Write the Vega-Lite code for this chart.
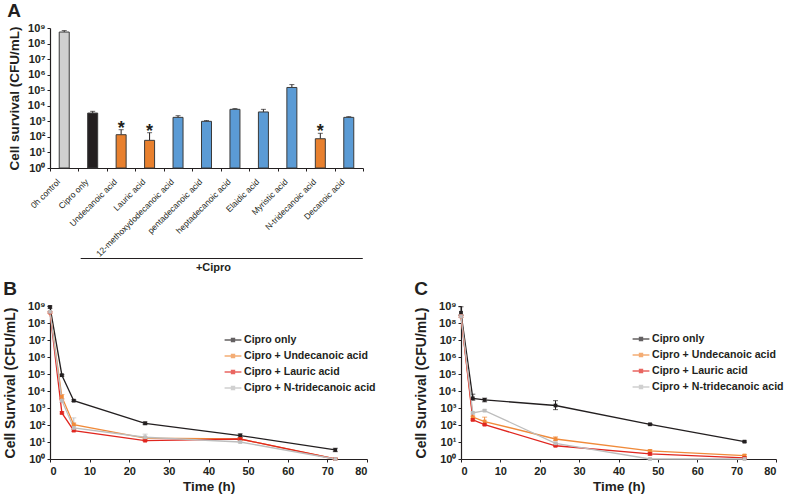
{
  "$schema": "https://vega.github.io/schema/vega-lite/v6.json",
  "padding": {"left": 3, "top": 2, "right": 2, "bottom": 2},
  "background": "white",
  "config": {
    "view": {"stroke": null},
    "font": "Liberation Sans",
    "axis": {"grid": false, "domainColor": "#231f20", "tickColor": "#231f20", "labelColor": "#231f20", "titleColor": "#231f20", "labelFont": "Liberation Sans", "titleFont": "Liberation Sans", "domainWidth": 1.2, "tickSize": 3},
    "title": {"font": "Liberation Sans", "color": "#231f20"},
    "legend": {"labelFont": "Liberation Sans"}
  },
  "datasets": {
    "bars": [
      {"treatment": "0h control", "type": "control", "value": 550000000, "hi": 680000000, "sig": ""},
      {"treatment": "Cipro only", "type": "cipro", "value": 3400, "hi": 4400, "sig": ""},
      {"treatment": "Undecanoic acid", "type": "sig", "value": 138, "hi": 290, "sig": "*"},
      {"treatment": "Lauric acid", "type": "sig", "value": 60, "hi": 186, "sig": "*"},
      {"treatment": "12-methoxydodecanoic acid", "type": "ns", "value": 1800, "hi": 2300, "sig": ""},
      {"treatment": "pentadecanoic acid", "type": "ns", "value": 1000, "hi": 1120, "sig": ""},
      {"treatment": "heptadecanoic acid", "type": "ns", "value": 5900, "hi": 6600, "sig": ""},
      {"treatment": "Elaidic acid", "type": "ns", "value": 4000, "hi": 5900, "sig": ""},
      {"treatment": "Myristic acid", "type": "ns", "value": 150000, "hi": 230000, "sig": ""},
      {"treatment": "N-tridecanoic acid", "type": "sig", "value": 76, "hi": 170, "sig": "*"},
      {"treatment": "Decanoic acid", "type": "ns", "value": 1800, "hi": 2000, "sig": ""}
    ],
    "bracket": [
      {"from": "Cipro only", "to": "Decanoic acid", "label": "+Cipro"}
    ],
    "bw": [
      {"series": "Cipro only", "Time": 0, "CFU": 880000000, "lo": 750000000, "hi": 1000000000},
      {"series": "Cipro only", "Time": 3, "CFU": 85000, "lo": 75000, "hi": 95000},
      {"series": "Cipro only", "Time": 6, "CFU": 2700, "lo": 2400, "hi": 3000},
      {"series": "Cipro only", "Time": 24, "CFU": 126, "lo": 105, "hi": 150},
      {"series": "Cipro only", "Time": 48, "CFU": 24, "lo": 19, "hi": 30},
      {"series": "Cipro only", "Time": 72, "CFU": 3.4, "lo": 2.7, "hi": 4.3},
      {"series": "Cipro + Undecanoic acid", "Time": 0, "CFU": 420000000, "lo": 380000000, "hi": 460000000},
      {"series": "Cipro + Undecanoic acid", "Time": 3, "CFU": 4500, "lo": 3300, "hi": 6200},
      {"series": "Cipro + Undecanoic acid", "Time": 6, "CFU": 105, "lo": 90, "hi": 130},
      {"series": "Cipro + Undecanoic acid", "Time": 24, "CFU": 17, "lo": 15, "hi": 20},
      {"series": "Cipro + Undecanoic acid", "Time": 48, "CFU": 15, "lo": 13, "hi": 17},
      {"series": "Cipro + Undecanoic acid", "Time": 72, "CFU": 1, "lo": 1, "hi": 1.1},
      {"series": "Cipro + Lauric acid", "Time": 0, "CFU": 420000000, "lo": 380000000, "hi": 460000000},
      {"series": "Cipro + Lauric acid", "Time": 3, "CFU": 515, "lo": 450, "hi": 590},
      {"series": "Cipro + Lauric acid", "Time": 6, "CFU": 47, "lo": 42, "hi": 53},
      {"series": "Cipro + Lauric acid", "Time": 24, "CFU": 12, "lo": 11, "hi": 13.5},
      {"series": "Cipro + Lauric acid", "Time": 48, "CFU": 15, "lo": 13, "hi": 17},
      {"series": "Cipro + Lauric acid", "Time": 72, "CFU": 1, "lo": 1, "hi": 1.1},
      {"series": "Cipro + N-tridecanoic acid", "Time": 0, "CFU": 450000000, "lo": 400000000, "hi": 500000000},
      {"series": "Cipro + N-tridecanoic acid", "Time": 3, "CFU": 2700, "lo": 2100, "hi": 3600},
      {"series": "Cipro + N-tridecanoic acid", "Time": 6, "CFU": 67, "lo": 43, "hi": 263},
      {"series": "Cipro + N-tridecanoic acid", "Time": 24, "CFU": 19, "lo": 15, "hi": 29},
      {"series": "Cipro + N-tridecanoic acid", "Time": 48, "CFU": 10, "lo": 9, "hi": 11.5},
      {"series": "Cipro + N-tridecanoic acid", "Time": 72, "CFU": 1, "lo": 1, "hi": 1.1}
    ],
    "ehec": [
      {"series": "Cipro only", "Time": 0, "CFU": 400000000, "lo": 300000000, "hi": 900000000},
      {"series": "Cipro only", "Time": 3, "CFU": 3700, "lo": 2900, "hi": 6500},
      {"series": "Cipro only", "Time": 6, "CFU": 3000, "lo": 2300, "hi": 3800},
      {"series": "Cipro only", "Time": 24, "CFU": 1400, "lo": 800, "hi": 2700},
      {"series": "Cipro only", "Time": 48, "CFU": 110, "lo": 100, "hi": 122},
      {"series": "Cipro only", "Time": 72, "CFU": 10.5, "lo": 9.6, "hi": 11.5},
      {"series": "Cipro + Undecanoic acid", "Time": 0, "CFU": 250000000, "lo": 220000000, "hi": 280000000},
      {"series": "Cipro + Undecanoic acid", "Time": 3, "CFU": 290, "lo": 250, "hi": 330},
      {"series": "Cipro + Undecanoic acid", "Time": 6, "CFU": 160, "lo": 115, "hi": 290},
      {"series": "Cipro + Undecanoic acid", "Time": 24, "CFU": 15, "lo": 12, "hi": 20},
      {"series": "Cipro + Undecanoic acid", "Time": 48, "CFU": 3, "lo": 2.6, "hi": 3.5},
      {"series": "Cipro + Undecanoic acid", "Time": 72, "CFU": 1.6, "lo": 1.4, "hi": 1.8},
      {"series": "Cipro + Lauric acid", "Time": 0, "CFU": 250000000, "lo": 220000000, "hi": 280000000},
      {"series": "Cipro + Lauric acid", "Time": 3, "CFU": 200, "lo": 180, "hi": 220},
      {"series": "Cipro + Lauric acid", "Time": 6, "CFU": 105, "lo": 95, "hi": 115},
      {"series": "Cipro + Lauric acid", "Time": 24, "CFU": 6, "lo": 5.4, "hi": 6.6},
      {"series": "Cipro + Lauric acid", "Time": 48, "CFU": 2, "lo": 1.7, "hi": 2.3},
      {"series": "Cipro + Lauric acid", "Time": 72, "CFU": 1.15, "lo": 1, "hi": 1.3},
      {"series": "Cipro + N-tridecanoic acid", "Time": 0, "CFU": 250000000, "lo": 220000000, "hi": 280000000},
      {"series": "Cipro + N-tridecanoic acid", "Time": 3, "CFU": 515, "lo": 450, "hi": 590},
      {"series": "Cipro + N-tridecanoic acid", "Time": 6, "CFU": 700, "lo": 620, "hi": 780},
      {"series": "Cipro + N-tridecanoic acid", "Time": 24, "CFU": 8.4, "lo": 7.5, "hi": 9.5},
      {"series": "Cipro + N-tridecanoic acid", "Time": 48, "CFU": 1, "lo": 1, "hi": 1.1},
      {"series": "Cipro + N-tridecanoic acid", "Time": 72, "CFU": 1, "lo": 1, "hi": 1.1}
    ]
  },
  "spacing": 6,
  "vconcat": [
    {
      "spacing": -19,
      "resolve": {"scale": {"x": "shared"}},
      "vconcat": [
        {
          "width": 313,
          "height": 140,
          "title": {"text": "A", "anchor": "start", "frame": "bounds", "fontSize": 19, "fontWeight": "bold", "offset": 1},
          "data": {"name": "bars"},
          "encoding": {
            "x": {"field": "treatment", "type": "nominal", "sort": null, "scale": {"type": "band"},
              "axis": {"title": null, "labelAngle": -45, "labelFontSize": 8.5, "labelOffset": -9, "labelPadding": 6, "tickBand": "extent", "tickSize": 3, "labelColor": "#231f20"}}
          },
          "layer": [
            {
              "mark": {"type": "rule", "color": "#231f20", "strokeWidth": 1},
              "encoding": {
                "y": {"field": "value", "type": "quantitative", "title": "Cell survival (CFU/mL)", "scale": {"type": "log", "domain": [1, 1000000000]}},
                "y2": {"field": "hi"}
              }
            },
            {
              "mark": {"type": "tick", "color": "#231f20", "thickness": 1, "size": 5, "orient": "horizontal"},
              "encoding": {
                "y": {"field": "hi", "type": "quantitative", "title": "Cell survival (CFU/mL)", "scale": {"type": "log", "domain": [1, 1000000000]}}
              }
            },
            {
              "mark": {"type": "bar", "width": 10, "stroke": "#3a3a3a", "strokeWidth": 1},
              "encoding": {
                "y": {"field": "value", "type": "quantitative", "title": "Cell survival (CFU/mL)", "scale": {"type": "log", "domain": [1, 1000000000]},
                  "axis": {"values": [1, 10, 100, 1000, 10000, 100000, 1000000, 10000000, 100000000, 1000000000],
                    "labelExpr": "'10' + ['⁰','¹','²','³','⁴','⁵','⁶','⁷','⁸','⁹'][round(log(datum.value)/LN10)]",
                    "labelFontSize": 11, "labelFontWeight": "bold", "titleFontSize": 13.5, "titleFontWeight": "bold", "titlePadding": 6}},
                "y2": {"datum": 1},
                "color": {"field": "type", "type": "nominal", "legend": null,
                  "scale": {"domain": ["control", "cipro", "sig", "ns"], "range": ["#d0d0d0", "#231f20", "#e8802e", "#5b9bd5"]}}
              }
            },
            {
              "transform": [{"filter": "datum.sig != ''"}],
              "mark": {"type": "text", "fontSize": 18, "fontWeight": "bold", "baseline": "alphabetic", "dy": 4, "color": "#231f20"},
              "encoding": {
                "y": {"field": "hi", "type": "quantitative", "title": "Cell survival (CFU/mL)", "scale": {"type": "log", "domain": [1, 1000000000]}},
                "text": {"field": "sig"}
              }
            }
          ]
        },
        {
          "width": 313,
          "height": 1,
          "data": {"name": "bracket"},
          "title": {"text": "+Cipro", "orient": "bottom", "fontSize": 11, "fontWeight": "bold", "offset": 3, "dx": 7},
          "mark": {"type": "rule", "color": "#231f20", "strokeWidth": 1.2, "xOffset": -12, "x2Offset": 14},
          "encoding": {
            "x": {"field": "from", "type": "nominal", "sort": null, "scale": {"type": "band"}, "axis": null},
            "x2": {"field": "to"}
          }
        }
      ]
    },
    {
      "spacing": 38,
      "resolve": {"scale": {"color": "independent"}, "legend": {"color": "independent"}},
      "hconcat": [
        {
          "width": 317,
          "height": 153,
          "title": {"text": "B", "anchor": "start", "frame": "bounds", "fontSize": 19, "fontWeight": "bold", "offset": 1},
          "data": {"name": "bw"},
          "encoding": {
            "x": {"field": "Time", "type": "quantitative", "title": "Time (h)", "scale": {"domain": [0, 80], "nice": false},
              "axis": {"values": [0, 10, 20, 30, 40, 50, 60, 70, 80], "labelFontSize": 11, "labelFontWeight": "bold", "titleFontSize": 13.5, "titleFontWeight": "bold", "titlePadding": 3, "labelPadding": 3}},
            "color": {"field": "series", "type": "nominal", "title": null,
              "scale": {"domain": ["Cipro only", "Cipro + Undecanoic acid", "Cipro + Lauric acid", "Cipro + N-tridecanoic acid"], "range": ["#231f20", "#f08a3a", "#e0261f", "#bdbdbd"]},
              "legend": {"orient": "none", "legendX": 175, "legendY": 26, "padding": 0, "labelFontSize": 10.6, "labelFontWeight": "bold", "labelColor": "#231f20", "symbolType": "M-1.2,0H1.2M-0.22,-0.22H0.22V0.22H-0.22Z", "symbolSize": 196, "symbolStrokeWidth": 1.3, "rowPadding": 2, "labelOffset": 3}}
          },
          "layer": [
            {
              "mark": {"type": "rule", "strokeWidth": 1},
              "encoding": {
                "y": {"field": "lo", "type": "quantitative", "scale": {"type": "log", "domain": [1, 1000000000]}, "title": "Cell Survival (CFU/mL)"},
                "y2": {"field": "hi"}
              }
            },
            {
              "mark": {"type": "tick", "orient": "horizontal", "size": 5, "thickness": 1},
              "encoding": {"y": {"field": "hi", "type": "quantitative", "scale": {"type": "log", "domain": [1, 1000000000]}, "title": "Cell Survival (CFU/mL)"}}
            },
            {
              "mark": {"type": "tick", "orient": "horizontal", "size": 5, "thickness": 1},
              "encoding": {"y": {"field": "lo", "type": "quantitative", "scale": {"type": "log", "domain": [1, 1000000000]}, "title": "Cell Survival (CFU/mL)"}}
            },
            {
              "mark": {"type": "line", "strokeWidth": 1.3, "point": {"filled": true, "size": 14, "shape": "square"}},
              "encoding": {
                "y": {"field": "CFU", "type": "quantitative", "scale": {"type": "log", "domain": [1, 1000000000]}, "title": "Cell Survival (CFU/mL)",
                  "axis": {"values": [1, 10, 100, 1000, 10000, 100000, 1000000, 10000000, 100000000, 1000000000],
                    "labelExpr": "'10' + ['⁰','¹','²','³','⁴','⁵','⁶','⁷','⁸','⁹'][round(log(datum.value)/LN10)]",
                    "labelFontSize": 11, "labelFontWeight": "bold", "titleFontSize": 14, "titleFontWeight": "bold", "titlePadding": 10}}
              }
            },
            {
              "data": {"values": [{"strain": "BW25113"}]},
              "mark": {"type": "text", "fontSize": 14.5, "fontWeight": "bold", "color": "#231f20"},
              "encoding": {
                "x": {"datum": 41.7},
                "y": {"datum": 280000000},
                "text": {"field": "strain"},
                "color": {"value": "#231f20"}
              }
            }
          ]
        },
        {
          "width": 315,
          "height": 153,
          "title": {"text": "C", "anchor": "start", "frame": "bounds", "fontSize": 19, "fontWeight": "bold", "offset": 1},
          "data": {"name": "ehec"},
          "encoding": {
            "x": {"field": "Time", "type": "quantitative", "title": "Time (h)", "scale": {"domain": [0, 80], "nice": false},
              "axis": {"values": [0, 10, 20, 30, 40, 50, 60, 70, 80], "labelFontSize": 11, "labelFontWeight": "bold", "titleFontSize": 13.5, "titleFontWeight": "bold", "titlePadding": 3, "labelPadding": 3}},
            "color": {"field": "series", "type": "nominal", "title": null,
              "scale": {"domain": ["Cipro only", "Cipro + Undecanoic acid", "Cipro + Lauric acid", "Cipro + N-tridecanoic acid"], "range": ["#231f20", "#f08a3a", "#e0261f", "#bdbdbd"]},
              "legend": {"orient": "none", "legendX": 172, "legendY": 25, "padding": 0, "labelFontSize": 10.6, "labelFontWeight": "bold", "labelColor": "#231f20", "symbolType": "M-1.2,0H1.2M-0.22,-0.22H0.22V0.22H-0.22Z", "symbolSize": 196, "symbolStrokeWidth": 1.3, "rowPadding": 2, "labelOffset": 3}}
          },
          "layer": [
            {
              "mark": {"type": "rule", "strokeWidth": 1},
              "encoding": {
                "y": {"field": "lo", "type": "quantitative", "scale": {"type": "log", "domain": [1, 1000000000]}, "title": "Cell Survival (CFU/mL)"},
                "y2": {"field": "hi"}
              }
            },
            {
              "mark": {"type": "tick", "orient": "horizontal", "size": 5, "thickness": 1},
              "encoding": {"y": {"field": "hi", "type": "quantitative", "scale": {"type": "log", "domain": [1, 1000000000]}, "title": "Cell Survival (CFU/mL)"}}
            },
            {
              "mark": {"type": "tick", "orient": "horizontal", "size": 5, "thickness": 1},
              "encoding": {"y": {"field": "lo", "type": "quantitative", "scale": {"type": "log", "domain": [1, 1000000000]}, "title": "Cell Survival (CFU/mL)"}}
            },
            {
              "mark": {"type": "line", "strokeWidth": 1.3, "point": {"filled": true, "size": 14, "shape": "square"}},
              "encoding": {
                "y": {"field": "CFU", "type": "quantitative", "scale": {"type": "log", "domain": [1, 1000000000]}, "title": "Cell Survival (CFU/mL)",
                  "axis": {"values": [1, 10, 100, 1000, 10000, 100000, 1000000, 10000000, 100000000, 1000000000],
                    "labelExpr": "'10' + ['⁰','¹','²','³','⁴','⁵','⁶','⁷','⁸','⁹'][round(log(datum.value)/LN10)]",
                    "labelFontSize": 11, "labelFontWeight": "bold", "titleFontSize": 14, "titleFontWeight": "bold", "titlePadding": 10}}
              }
            },
            {
              "data": {"values": [{"strain": "EHEC"}]},
              "mark": {"type": "text", "fontSize": 15, "fontWeight": "bold", "color": "#231f20"},
              "encoding": {
                "x": {"datum": 38.9},
                "y": {"datum": 320000000},
                "text": {"field": "strain"},
                "color": {"value": "#231f20"}
              }
            }
          ]
        }
      ]
    }
  ]
}
